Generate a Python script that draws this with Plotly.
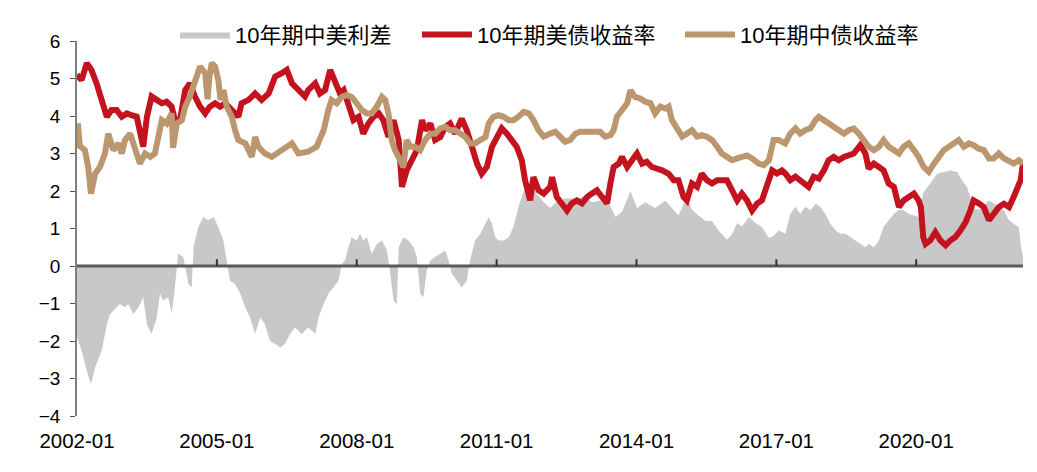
import plotly.graph_objects as go

# ---------------- data ----------------
# time as decimal year
us_t = [2002.00, 2002.10, 2002.21, 2002.31, 2002.42, 2002.53, 2002.64, 2002.74, 2002.85, 2002.96,
        2003.07, 2003.17, 2003.28, 2003.39, 2003.42, 2003.50, 2003.60, 2003.71, 2003.82, 2003.92,
        2004.03, 2004.10, 2004.21, 2004.32, 2004.42, 2004.53, 2004.64, 2004.75, 2004.85, 2004.96,
        2005.07, 2005.18, 2005.32, 2005.46, 2005.53, 2005.68, 2005.82, 2005.96, 2006.11, 2006.25,
        2006.39, 2006.50, 2006.61, 2006.75, 2006.89, 2006.96, 2007.11, 2007.21, 2007.32, 2007.43,
        2007.54, 2007.64, 2007.72, 2007.82, 2007.93, 2008.04, 2008.14, 2008.25, 2008.36, 2008.47,
        2008.57, 2008.68, 2008.79, 2008.90, 2008.97, 2009.07, 2009.18, 2009.29, 2009.40, 2009.47,
        2009.58, 2009.68, 2009.79, 2009.90, 2010.00, 2010.11, 2010.25, 2010.36, 2010.47, 2010.58,
        2010.68, 2010.79, 2010.90, 2011.01, 2011.11, 2011.22, 2011.33, 2011.43, 2011.54, 2011.61,
        2011.72, 2011.79, 2011.90, 2012.01, 2012.15, 2012.19, 2012.29, 2012.40, 2012.51, 2012.61,
        2012.72, 2012.83, 2012.94, 2013.04, 2013.15, 2013.26, 2013.37, 2013.44, 2013.51, 2013.62,
        2013.69, 2013.80, 2013.90, 2014.01, 2014.12, 2014.22, 2014.33, 2014.44, 2014.55, 2014.69,
        2014.80, 2014.90, 2015.01, 2015.08, 2015.19, 2015.30, 2015.40, 2015.51, 2015.62, 2015.73,
        2015.83, 2015.94, 2016.05, 2016.16, 2016.26, 2016.37, 2016.48, 2016.59, 2016.69, 2016.80,
        2016.91, 2017.01, 2017.12, 2017.19, 2017.30, 2017.41, 2017.51, 2017.62, 2017.69, 2017.80,
        2017.91, 2018.02, 2018.12, 2018.23, 2018.34, 2018.45, 2018.55, 2018.66, 2018.80, 2018.91,
        2018.98, 2019.09, 2019.20, 2019.30, 2019.41, 2019.52, 2019.63, 2019.73, 2019.84, 2019.95,
        2020.05, 2020.10, 2020.15, 2020.20, 2020.30, 2020.41, 2020.52, 2020.63, 2020.73, 2020.84,
        2020.95, 2021.06, 2021.16, 2021.23, 2021.34, 2021.45, 2021.56, 2021.66, 2021.77, 2021.88,
        2021.99, 2022.09, 2022.16, 2022.24, 2022.29]
us_yield = [5.10, 4.96, 5.41, 5.23, 4.87, 4.43, 3.98, 4.16, 4.16, 3.98,
            4.07, 4.02, 3.98, 3.36, 3.18, 3.98, 4.52, 4.43, 4.34, 4.38,
            4.25, 3.89, 3.89, 4.69, 4.87, 4.52, 4.25, 4.07, 4.25, 4.34,
            4.25, 4.34, 4.16, 3.98, 4.34, 4.43, 4.60, 4.43, 4.60, 5.05,
            5.14, 5.23, 4.87, 4.69, 4.52, 4.69, 4.87, 4.60, 4.69, 5.23,
            4.87, 4.60, 4.69, 4.34, 3.89, 3.98, 3.53, 3.80, 3.98, 4.07,
            3.89, 3.44, 3.89, 3.36, 2.11, 2.55, 2.82, 3.09, 3.89, 3.62,
            3.80, 3.36, 3.44, 3.71, 3.80, 3.53, 3.93, 3.62, 3.18, 2.73,
            2.46, 2.64, 3.18, 3.44, 3.67, 3.53, 3.36, 3.18, 2.82, 2.29,
            1.75, 2.37, 2.02, 1.93, 2.11, 2.37, 1.84, 1.67, 1.48, 1.67,
            1.75, 1.67, 1.84, 1.93, 2.02, 1.84, 1.67, 2.20, 2.64, 2.73,
            2.91, 2.64, 2.82, 3.00, 2.73, 2.78, 2.64, 2.60, 2.55, 2.46,
            2.29, 2.29, 1.84, 1.75, 2.20, 2.11, 2.46, 2.29, 2.20, 2.29,
            2.29, 2.29, 2.02, 1.75, 1.93, 1.75, 1.48, 1.67, 1.75, 2.11,
            2.55, 2.47, 2.55, 2.47, 2.29, 2.38, 2.29, 2.20, 2.11, 2.38,
            2.33, 2.55, 2.82, 2.91, 2.82, 2.91, 2.95, 3.00, 3.22, 3.00,
            2.60, 2.73, 2.64, 2.55, 2.20, 2.11, 1.57, 1.75, 1.84, 1.93,
            1.75, 1.57, 0.77, 0.59, 0.68, 0.90, 0.68, 0.55, 0.68, 0.77,
            0.95, 1.17, 1.48, 1.75, 1.67, 1.57, 1.22, 1.39, 1.57, 1.66,
            1.57, 1.84, 2.11, 2.29, 2.73]

cn_t = [2002.00, 2002.02, 2002.06, 2002.17, 2002.24, 2002.30, 2002.39, 2002.49, 2002.60, 2002.67,
        2002.78, 2002.89, 2002.96, 2003.03, 2003.14, 2003.24, 2003.35, 2003.46, 2003.57, 2003.67,
        2003.75, 2003.82, 2003.92, 2004.03, 2004.06, 2004.14, 2004.25, 2004.32, 2004.42, 2004.53,
        2004.64, 2004.75, 2004.80, 2004.84, 2004.89, 2004.96, 2005.03, 2005.08, 2005.14, 2005.21,
        2005.32, 2005.39, 2005.46, 2005.61, 2005.75, 2005.82, 2005.89, 2006.03, 2006.18, 2006.39,
        2006.61, 2006.75, 2006.96, 2007.14, 2007.29, 2007.39, 2007.46, 2007.57, 2007.68, 2007.79,
        2007.89, 2008.00, 2008.11, 2008.22, 2008.32, 2008.43, 2008.54, 2008.61, 2008.68, 2008.75,
        2008.82, 2008.93, 2009.00, 2009.07, 2009.15, 2009.25, 2009.36, 2009.47, 2009.58, 2009.68,
        2009.79, 2009.90, 2010.00, 2010.11, 2010.22, 2010.33, 2010.43, 2010.54, 2010.65, 2010.76,
        2010.83, 2010.93, 2011.04, 2011.15, 2011.26, 2011.36, 2011.47, 2011.58, 2011.69, 2011.79,
        2011.90, 2012.01, 2012.15, 2012.26, 2012.36, 2012.47, 2012.58, 2012.69, 2012.79, 2012.90,
        2013.01, 2013.12, 2013.22, 2013.33, 2013.44, 2013.51, 2013.58, 2013.69, 2013.80, 2013.87,
        2013.97, 2014.08, 2014.19, 2014.30, 2014.40, 2014.51, 2014.62, 2014.69, 2014.76, 2014.87,
        2014.98, 2015.08, 2015.19, 2015.30, 2015.40, 2015.51, 2015.62, 2015.73, 2015.83, 2015.94,
        2016.05, 2016.16, 2016.26, 2016.37, 2016.48, 2016.62, 2016.73, 2016.84, 2016.94, 2017.05,
        2017.19, 2017.30, 2017.41, 2017.51, 2017.62, 2017.73, 2017.84, 2017.91, 2018.02, 2018.12,
        2018.23, 2018.34, 2018.45, 2018.55, 2018.66, 2018.77, 2018.87, 2018.98, 2019.09, 2019.20,
        2019.30, 2019.41, 2019.52, 2019.63, 2019.73, 2019.84, 2019.95, 2020.05, 2020.16, 2020.27,
        2020.38, 2020.48, 2020.59, 2020.70, 2020.81, 2020.91, 2021.02, 2021.13, 2021.23, 2021.34,
        2021.45, 2021.56, 2021.66, 2021.77, 2021.88, 2021.99, 2022.09, 2022.20, 2022.29]
cn_yield = [3.25, 3.80, 3.20, 3.09, 2.64, 1.93, 2.46, 2.64, 3.00, 3.53,
            3.09, 3.27, 3.00, 3.36, 3.53, 3.18, 2.73, 3.00, 2.91, 3.00,
            3.53, 3.89, 3.80, 4.07, 3.15, 3.80, 3.89, 4.25, 4.52, 4.87,
            5.32, 5.14, 4.45, 5.05, 5.41, 5.32, 4.96, 4.43, 4.69, 4.25,
            3.98, 3.62, 3.36, 3.27, 2.91, 3.44, 3.18, 3.00, 2.91, 3.09,
            3.27, 3.00, 3.05, 3.18, 3.62, 4.16, 4.43, 4.34, 4.51, 4.56,
            4.51, 4.34, 4.16, 4.07, 4.07, 4.25, 4.51, 4.43, 4.07, 3.36,
            3.09, 2.82, 2.64, 3.36, 3.18, 3.18, 3.09, 3.36, 3.53, 3.53,
            3.67, 3.71, 3.62, 3.62, 3.53, 3.44, 3.27, 3.27, 3.36, 3.44,
            3.80, 3.98, 4.02, 3.98, 3.89, 3.89, 3.98, 4.11, 4.07, 3.89,
            3.62, 3.45, 3.53, 3.58, 3.45, 3.31, 3.36, 3.53, 3.58, 3.58,
            3.62, 3.62, 3.58, 3.45, 3.49, 3.62, 3.98, 4.16, 4.34, 4.69,
            4.51, 4.47, 4.38, 4.34, 4.07, 4.25, 4.20, 4.25, 3.89, 3.67,
            3.45, 3.53, 3.62, 3.45, 3.49, 3.45, 3.36, 3.18, 3.00, 2.91,
            2.82, 2.87, 2.91, 2.95, 2.87, 2.73, 2.69, 2.82, 3.36, 3.36,
            3.27, 3.53, 3.67, 3.53, 3.62, 3.67, 3.89, 3.98, 3.89, 3.80,
            3.71, 3.62, 3.53, 3.62, 3.67, 3.53, 3.36, 3.18, 3.09, 3.18,
            3.36, 3.18, 3.09, 3.00, 3.18, 3.27, 3.09, 2.91, 2.64, 2.51,
            2.73, 2.91, 3.09, 3.18, 3.27, 3.36, 3.18, 3.27, 3.22, 3.13,
            3.09, 2.87, 2.87, 3.00, 2.87, 2.78, 2.73, 2.82, 2.73]

spread_t = [2002.00, 2002.10, 2002.21, 2002.30, 2002.39, 2002.53, 2002.64, 2002.71, 2002.78, 2002.85,
            2002.92, 2003.03, 2003.10, 2003.21, 2003.32, 2003.42, 2003.50, 2003.60, 2003.71, 2003.78,
            2003.85, 2003.96, 2004.03, 2004.10, 2004.17, 2004.28, 2004.39, 2004.46, 2004.50, 2004.60,
            2004.71, 2004.82, 2004.93, 2005.03, 2005.14, 2005.21, 2005.28, 2005.39, 2005.50, 2005.61,
            2005.71, 2005.82, 2005.93, 2006.03, 2006.14, 2006.25, 2006.36, 2006.46, 2006.57, 2006.68,
            2006.82, 2006.96, 2007.11, 2007.18, 2007.29, 2007.39, 2007.50, 2007.61, 2007.68, 2007.75,
            2007.82, 2007.89, 2008.00, 2008.07, 2008.14, 2008.22, 2008.32, 2008.43, 2008.54, 2008.65,
            2008.72, 2008.79, 2008.86, 2008.90, 2009.00, 2009.11, 2009.22, 2009.29, 2009.36, 2009.43,
            2009.50, 2009.58, 2009.68, 2009.79, 2009.90, 2009.97, 2010.04, 2010.15, 2010.25, 2010.36,
            2010.43, 2010.54, 2010.65, 2010.76, 2010.83, 2010.90, 2010.97, 2011.04, 2011.15, 2011.26,
            2011.36, 2011.47, 2011.54, 2011.61, 2011.72, 2011.86, 2012.01, 2012.15, 2012.29, 2012.47,
            2012.69, 2012.90, 2013.04, 2013.22, 2013.40, 2013.55, 2013.69, 2013.87, 2014.01, 2014.19,
            2014.40, 2014.62, 2014.76, 2014.90, 2015.08, 2015.19, 2015.33, 2015.48, 2015.62, 2015.76,
            2015.94, 2016.05, 2016.16, 2016.26, 2016.41, 2016.55, 2016.69, 2016.84, 2016.94, 2017.05,
            2017.19, 2017.30, 2017.41, 2017.51, 2017.62, 2017.73, 2017.84, 2017.94, 2018.05, 2018.16,
            2018.27, 2018.37, 2018.48, 2018.59, 2018.70, 2018.80, 2018.91, 2018.98, 2019.09, 2019.20,
            2019.30, 2019.41, 2019.52, 2019.63, 2019.73, 2019.84, 2019.95, 2020.05, 2020.15, 2020.30,
            2020.45, 2020.59, 2020.73, 2020.88, 2020.98, 2021.09, 2021.16, 2021.23, 2021.34, 2021.45,
            2021.56, 2021.66, 2021.77, 2021.88, 2021.99, 2022.09, 2022.20, 2022.25, 2022.29]
spread = [-1.90, -2.26, -2.80, -3.15, -2.70, -2.26, -1.55, -1.28, -1.19, -1.10,
          -1.01, -1.10, -1.01, -1.28, -1.10, -0.83, -1.55, -1.81, -1.37, -0.74,
          -0.92, -0.83, -1.28, -0.57, 0.33, 0.24, -0.48, -0.57, 0.50, 1.04,
          1.31, 1.22, 1.31, 1.04, 0.68, 0.15, -0.39, -0.48, -0.74, -1.10,
          -1.37, -1.81, -1.37, -1.55, -2.00, -2.08, -2.17, -2.08, -1.81, -1.64,
          -1.81, -1.64, -1.81, -1.37, -1.01, -0.74, -0.57, -0.39, 0.06, 0.15,
          0.50, 0.77, 0.68, 0.86, 0.68, 0.77, 0.33, 0.59, 0.68, 0.41,
          -0.21, -0.92, -1.01, 0.50, 0.77, 0.68, 0.50, 0.24, -0.74, -0.83,
          -0.12, 0.15, 0.24, 0.33, 0.41, 0.15, -0.21, -0.39, -0.57, -0.39,
          0.15, 0.68, 0.86, 1.13, 1.31, 1.13, 0.77, 0.68, 0.68, 0.77,
          1.04, 1.58, 1.84, 2.10, 2.25, 1.93, 1.70, 1.55, 1.72, 1.80,
          1.80, 1.85, 1.70, 1.75, 1.70, 1.31, 1.45, 2.00, 1.55, 1.70,
          1.55, 1.75, 1.55, 1.35, 1.84, 1.50, 1.35, 1.20, 1.20, 0.95,
          0.70, 0.85, 1.15, 1.05, 1.31, 1.15, 1.04, 0.75, 0.80, 0.95,
          0.86, 1.39, 1.58, 1.39, 1.58, 1.49, 1.66, 1.58, 1.39, 1.13,
          0.95, 0.86, 0.86, 0.77, 0.68, 0.59, 0.50, 0.59, 0.50, 0.68,
          1.04, 1.22, 1.39, 1.50, 1.49, 1.39, 1.35, 1.31, 1.95, 2.20,
          2.46, 2.51, 2.55, 2.51, 2.29, 2.11, 1.84, 1.55, 1.50, 1.60,
          1.75, 1.66, 1.58, 1.49, 1.22, 1.13, 1.04, 0.50, 0.24]

tick_years = [2002, 2005, 2008, 2011, 2014, 2017, 2020]
tick_labels = ["2002-01", "2005-01", "2008-01", "2011-01", "2014-01", "2017-01", "2020-01"]
y_ticks = [-4, -3, -2, -1, 0, 1, 2, 3, 4, 5, 6]

names = ["10年期中美利差", "10年期美债收益率", "10年期中债收益率"]

# ---------------- figure ----------------
FONT = "Liberation Sans, Arial, Noto Sans CJK SC, sans-serif"
x_start = us_t[0]
x_end = us_t[-1]
TICK_H = 0.18  # height of the upward tick marks on the zero axis, in y units

fig = go.Figure()
fig.add_trace(go.Scatter(
    x=spread_t, y=spread, name=names[0], mode="lines",
    line=dict(width=0, color="#c8c8c8"), fill="tozeroy", fillcolor="#c8c8c8",
    legend="legend"))

# horizontal category axis drawn at y = 0 (as traces so it sits above the grey area)
fig.add_trace(go.Scatter(
    x=[x_start, x_end], y=[0, 0], mode="lines", name="axis", showlegend=False,
    line=dict(color="#5a5a5a", width=3)))
tick_x, tick_y = [], []
for yr in tick_years[1:]:
    tick_x += [yr, yr, None]
    tick_y += [0, TICK_H, None]
fig.add_trace(go.Scatter(
    x=tick_x, y=tick_y, mode="lines", name="ticks", showlegend=False,
    line=dict(color="#333333", width=2)))

fig.add_trace(go.Scatter(
    x=us_t, y=us_yield, name=names[1], mode="lines",
    line=dict(width=6, color="#c4121e"), legend="legend2"))
fig.add_trace(go.Scatter(
    x=cn_t, y=cn_yield, name=names[2], mode="lines",
    line=dict(width=6, color="#bc966f"), legend="legend3"))

leg_common = dict(orientation="h", y=1.017, yanchor="middle", xanchor="left",
                  font=dict(size=22, family=FONT), bgcolor="rgba(0,0,0,0)", itemwidth=50)

fig.update_layout(
    width=1037, height=472,
    margin=dict(l=77, r=14, t=41, b=56, autoexpand=False),
    paper_bgcolor="white", plot_bgcolor="white",
    font=dict(family=FONT, size=18, color="black"),
    showlegend=True,
    legend=dict(x=0.1036, **leg_common),
    legend2=dict(x=0.3594, **leg_common),
    legend3=dict(x=0.6374, **leg_common),
    xaxis=dict(range=[x_start, x_end], tickvals=tick_years, ticktext=tick_labels,
               showline=False, ticks="outside", ticklen=6, tickcolor="rgba(0,0,0,0)",
               showgrid=False, zeroline=False, tickfont=dict(size=20.5, family=FONT)),
    yaxis=dict(range=[-4, 6], tickvals=y_ticks, showline=True, linecolor="#7f7f7f",
               linewidth=1.5, ticks="outside", ticklen=5, tickcolor="#555",
               showgrid=False, zeroline=False, ticklabelstandoff=6,
               tickfont=dict(size=19, family=FONT)),
)

fig.write_html("out.html")
